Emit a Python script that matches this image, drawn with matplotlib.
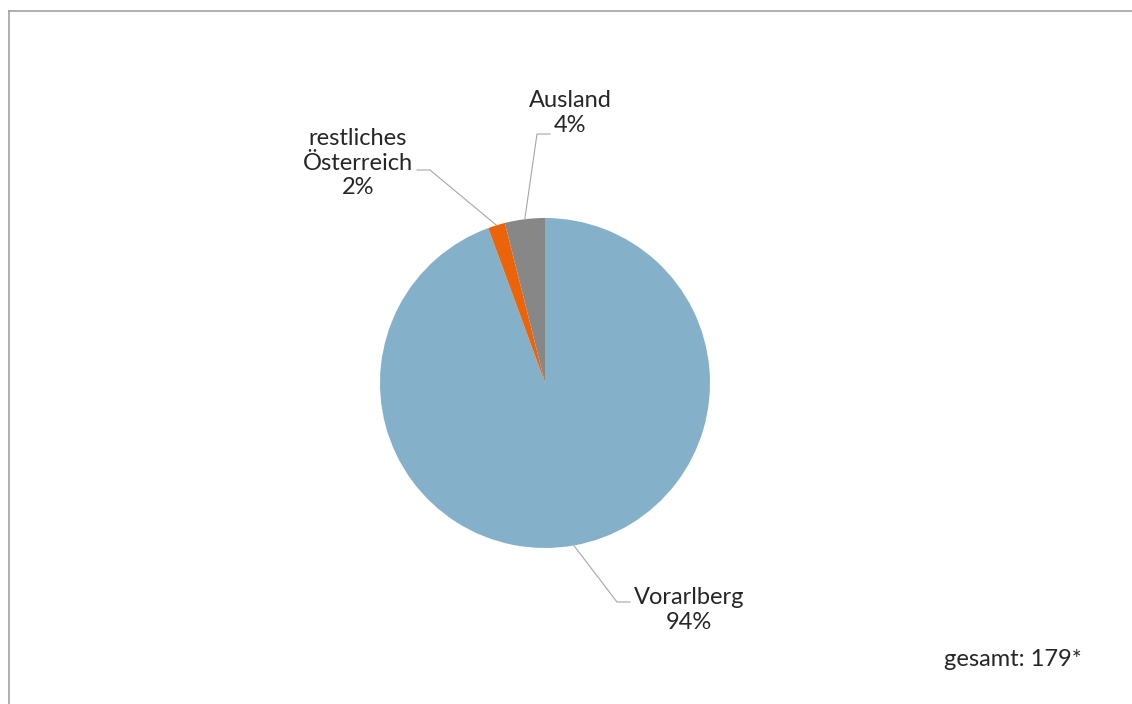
import numpy as np
import matplotlib
matplotlib.use("Agg")
import matplotlib.pyplot as plt
from matplotlib.lines import Line2D

plt.rcParams['font.family'] = ['Lato', 'DejaVu Sans']

categories = ["Vorarlberg", "restliches\nÖsterreich", "Ausland"]
counts = [169, 3, 7]
pct_labels = ["94%", "2%", "4%"]
total_label = "gesamt: 179*"
colors = ["#85B0C9", "#EB6409", "#878787"]

W, H = 1132, 704
fig = plt.figure(figsize=(W / 100, H / 100), dpi=100)
ax = fig.add_axes([0, 0, 1, 1])

cx, cy, r = 545, H - 383, 165
wedges, _ = ax.pie(counts, colors=colors, startangle=90, counterclock=False,
                   center=(cx, cy), radius=r, frame=True,
                   wedgeprops=dict(linewidth=0))
ax.set_xlim(0, W)
ax.set_ylim(0, H)
ax.set_aspect('equal')
ax.axis('off')

# label layout: (elbow point, end of horizontal tick, text centre)
layout = [
    dict(elbow=(617, H - 602), tick=(630, H - 602), text=(689, H - 610)),
    dict(elbow=(430, H - 170), tick=(417, H - 170), text=(358, H - 163)),
    dict(elbow=(537, H - 134), tick=(550, H - 134), text=(570, H - 113)),
]

text_color = "#262626"
line_color = "#A6A6A6"
for w, cat, pct, lay in zip(wedges, categories, pct_labels, layout):
    mid = np.deg2rad((w.theta1 + w.theta2) / 2)
    sx, sy = cx + r * np.cos(mid), cy + r * np.sin(mid)
    ex, ey = lay['elbow']
    tx, ty = lay['tick']
    ax.plot([sx, ex, tx], [sy, ey, ty], color=line_color, lw=0.8, zorder=3)
    ax.text(lay['text'][0], lay['text'][1], f"{cat}\n{pct}", ha='center', va='center',
            fontsize=17, color=text_color, linespacing=1.22)

ax.text(1013, H - 659, total_label, ha='center', va='center', fontsize=17, color=text_color)

# chart area border (top and left edges)
fig.add_artist(Line2D([8.5 / W, 1.0], [1 - 10.5 / H, 1 - 10.5 / H], transform=fig.transFigure,
                      color="#9A9A9A", lw=1.1))
fig.add_artist(Line2D([8.5 / W, 8.5 / W], [1 - 10.5 / H, 0], transform=fig.transFigure,
                      color="#9A9A9A", lw=1.1))

fig.savefig("out.png", dpi=100, facecolor="white")
